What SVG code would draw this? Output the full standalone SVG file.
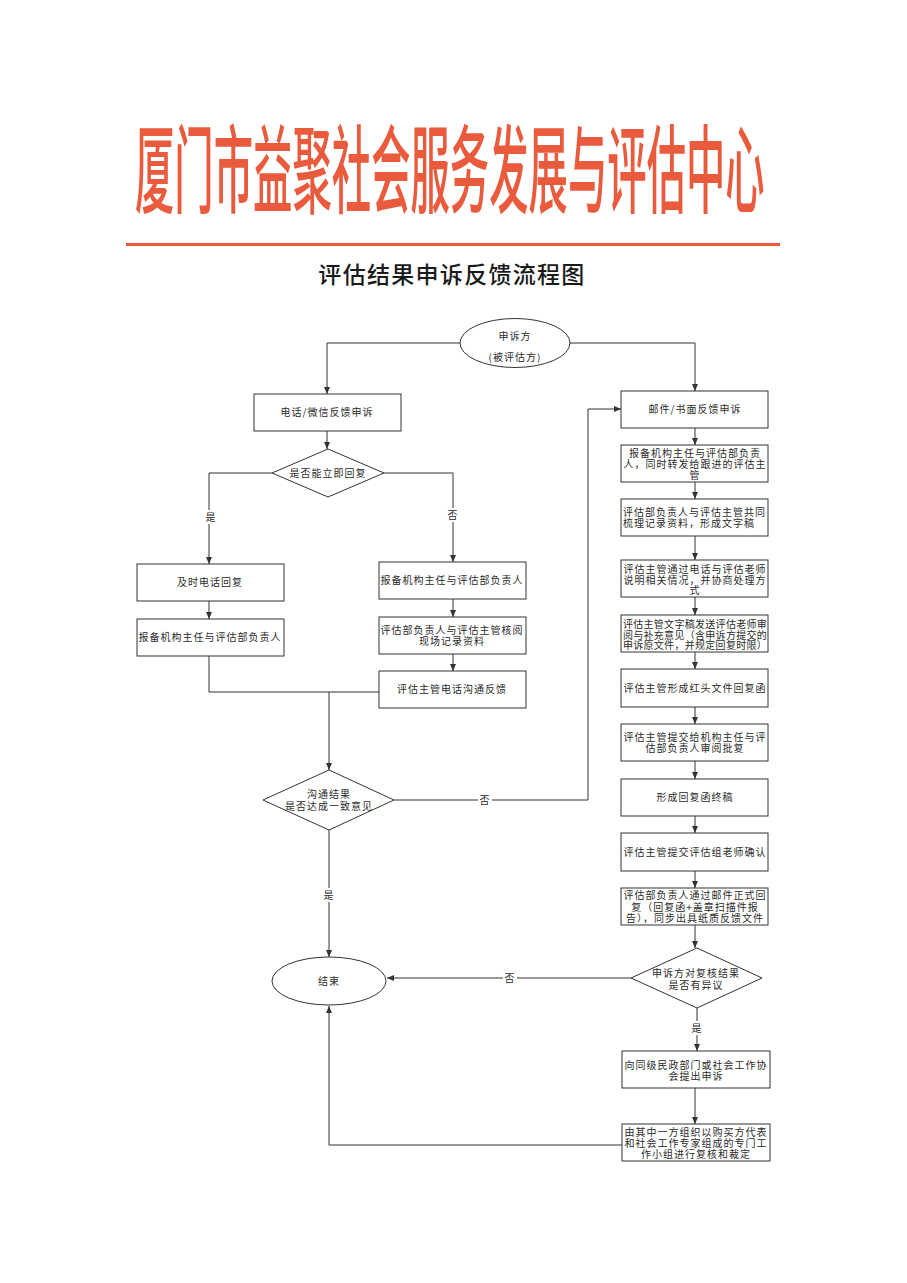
<svg xmlns="http://www.w3.org/2000/svg" width="907" height="1283" viewBox="0 0 907 1283">
<defs>
<style>
.box{fill:#fff;stroke:#333;stroke-width:1}
.t{font-family:"Noto Sans CJK SC","Noto Sans",sans-serif;font-size:10px;fill:#2a2a2a;letter-spacing:1px;text-anchor:middle}
.tl{text-anchor:start}
.tn{letter-spacing:0.3px}
.ln{fill:none;stroke:#333;stroke-width:1}
.arr{marker-end:url(#ah)}
.bg{fill:#fff}
</style>
<marker id="ah" markerUnits="userSpaceOnUse" markerWidth="7" markerHeight="6" refX="7" refY="3" orient="auto">
<path d="M0,0 L7,3 L0,6 z" fill="#333"/>
</marker>
</defs>
<rect x="0" y="0" width="907" height="1283" fill="#fff"/>

<g id="header">
<text transform="translate(135,205) scale(0.41,1)" font-family="'Noto Sans CJK SC',sans-serif" font-size="96" font-weight="500" fill="#ea5a3c">厦门市益聚社会服务发展与评估中心</text>
<rect x="126" y="243" width="654" height="3" fill="#ea5a3c"/>
<text x="452" y="283" font-family="'Noto Sans CJK SC',sans-serif" font-size="23" font-weight="500" fill="#1a1a1a" text-anchor="middle" letter-spacing="1.3">评估结果申诉反馈流程图</text>
</g>

<g id="connectors">
<path class="ln arr" d="M461,343 H327 V394"/>
<path class="ln arr" d="M570,343 H695 V391"/>
<path class="ln arr" d="M327,431 V449"/>
<path class="ln arr" d="M272,473 H209 V564"/>
<path class="ln arr" d="M384,473 H453 V562"/>
<path class="ln arr" d="M209,601 V619"/>
<path class="ln arr" d="M453,599 V617"/>
<path class="ln arr" d="M453,654 V671"/>
<path class="ln" d="M209,656 V692 H379"/>
<path class="ln arr" d="M329,692 V770"/>
<path class="ln arr" d="M394,800 H588 V409 H621"/>
<path class="ln arr" d="M329,830 V957"/>
<path class="ln arr" d="M695,428 V445"/>
<path class="ln arr" d="M695,482 V499"/>
<path class="ln arr" d="M695,536 V560"/>
<path class="ln arr" d="M695,597 V615"/>
<path class="ln arr" d="M695,652 V669"/>
<path class="ln arr" d="M695,707 V724"/>
<path class="ln arr" d="M695,761 V779"/>
<path class="ln arr" d="M695,816 V833"/>
<path class="ln arr" d="M695,871 V888"/>
<path class="ln arr" d="M695,925 V948"/>
<path class="ln arr" d="M631,978 H387"/>
<path class="ln arr" d="M697,1008 V1051"/>
<path class="ln arr" d="M695,1088 V1124"/>
<path class="ln arr" d="M622,1145 H329 V1006"/>
<rect class="bg" x="204" y="510" width="14" height="14"/>
<text class="t" x="211" y="521">是</text>
<rect class="bg" x="446" y="508" width="14" height="14"/>
<text class="t" x="453" y="519">否</text>
<rect class="bg" x="478" y="793" width="14" height="14"/>
<text class="t" x="485" y="804">否</text>
<rect class="bg" x="322" y="888" width="14" height="14"/>
<text class="t" x="329" y="899">是</text>
<rect class="bg" x="503" y="971" width="14" height="14"/>
<text class="t" x="510" y="982">否</text>
<rect class="bg" x="690" y="1021" width="14" height="14"/>
<text class="t" x="697" y="1032">是</text>
</g>

<g id="start">
<ellipse class="box" cx="515" cy="343" rx="55" ry="24.5"/>
<text class="t" x="515" y="340">申诉方<tspan x="515" y="361">(被评估方)</tspan></text>
</g>

<g id="phone">
<rect class="box" x="254" y="394" width="147" height="37"/>
<text class="t" x="327" y="416">电话/微信反馈申诉</text>
</g>

<g id="decide1">
<polygon class="box" points="328,449 384,473 328,497 272,473"/>
<text class="t" x="328" y="477">是否能立即回复</text>
</g>

<g id="reply-now">
<rect class="box" x="137" y="564" width="147" height="37"/>
<text class="t" x="210" y="586">及时电话回复</text>
</g>

<g id="report-left">
<rect class="box" x="137" y="619" width="147" height="37"/>
<text class="t" x="210" y="641">报备机构主任与评估部负责人</text>
</g>

<g id="report-mid">
<rect class="box" x="379" y="562" width="147" height="37"/>
<text class="t" x="452" y="584">报备机构主任与评估部负责人</text>
</g>

<g id="review-mid">
<rect class="box" x="379" y="617" width="147" height="37"/>
<text class="t" x="452" y="634">评估部负责人与评估主管核阅<tspan x="452" y="645">现场记录资料</tspan></text>
</g>

<g id="phone-feedback">
<rect class="box" x="379" y="671" width="147" height="37"/>
<text class="t" x="452" y="693">评估主管电话沟通反馈</text>
</g>

<g id="decide2">
<polygon class="box" points="329,770 394,800 329,830 263,800"/>
<text class="t" x="329" y="798">沟通结果<tspan x="329" y="810">是否达成一致意见</tspan></text>
</g>

<g id="end">
<ellipse class="box" cx="329" cy="981" rx="57" ry="24"/>
<text class="t" x="329" y="985">结束</text>
</g>

<g id="mail">
<rect class="box" x="621" y="391" width="147" height="37"/>
<text class="t" x="695" y="413">邮件/书面反馈申诉</text>
</g>

<g id="r2">
<rect class="box" x="621" y="445" width="147" height="37"/>
<text class="t" x="695" y="457">报备机构主任与评估部负责<tspan x="695" y="468">人，同时转发给跟进的评估主</tspan><tspan x="695" y="479">管</tspan></text>
</g>

<g id="r3">
<rect class="box" x="621" y="499" width="147" height="37"/>
<text class="t tl" x="623" y="516">评估部负责人与评估主管共同<tspan x="623" y="527">梳理记录资料，形成文字稿</tspan></text>
</g>

<g id="r4">
<rect class="box" x="621" y="560" width="147" height="37"/>
<text class="t" x="695" y="573">评估主管通过电话与评估老师<tspan x="695" y="583.5">说明相关情况，并协商处理方</tspan><tspan x="695" y="594">式</tspan></text>
</g>

<g id="r5">
<rect class="box" x="621" y="615" width="147" height="37"/>
<text class="t tn" x="695" y="627.5">评估主管文字稿发送评估老师审<tspan x="695" y="638.5">阅与补充意见（含申诉方提交的</tspan><tspan x="695" y="649">申诉原文件，并规定回复时限）</tspan></text>
</g>

<g id="r6">
<rect class="box" x="621" y="669" width="147" height="38"/>
<text class="t" x="695" y="692">评估主管形成红头文件回复函</text>
</g>

<g id="r7">
<rect class="box" x="621" y="724" width="147" height="37"/>
<text class="t" x="695" y="741">评估主管提交给机构主任与评<tspan x="695" y="752">估部负责人审阅批复</tspan></text>
</g>

<g id="r8">
<rect class="box" x="621" y="779" width="147" height="37"/>
<text class="t" x="695" y="801">形成回复函终稿</text>
</g>

<g id="r9">
<rect class="box" x="621" y="833" width="147" height="38"/>
<text class="t" x="695" y="856">评估主管提交评估组老师确认</text>
</g>

<g id="r10">
<rect class="box" x="621" y="888" width="147" height="37"/>
<text class="t" x="695" y="899">评估部负责人通过邮件正式回<tspan x="695" y="910.5">复（回复函+盖章扫描件报</tspan><tspan x="695" y="921.5">告），同步出具纸质反馈文件</tspan></text>
</g>

<g id="decide3">
<polygon class="box" points="697,948 762,978 697,1008 631,978"/>
<text class="t" x="696" y="977">申诉方对复核结果<tspan x="696" y="989">是否有异议</tspan></text>
</g>

<g id="r11">
<rect class="box" x="622" y="1051" width="148" height="37"/>
<text class="t" x="696" y="1069">向同级民政部门或社会工作协<tspan x="696" y="1080">会提出申诉</tspan></text>
</g>

<g id="r12">
<rect class="box" x="622" y="1124" width="148" height="37"/>
<text class="t" x="696" y="1135.5">由其中一方组织以购买方代表<tspan x="696" y="1146.5">和社会工作专家组成的专门工</tspan><tspan x="696" y="1157.5">作小组进行复核和裁定</tspan></text>
</g>
</svg>
